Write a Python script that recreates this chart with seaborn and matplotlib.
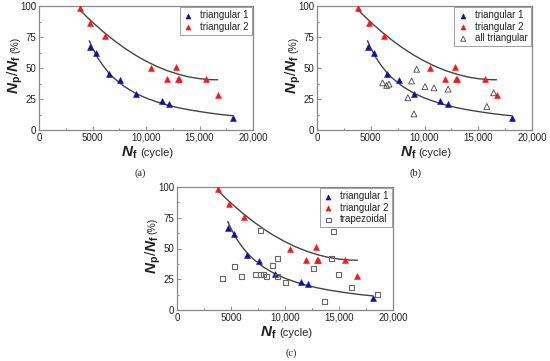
import numpy as np
import pandas as pd
import matplotlib
matplotlib.use("Agg")
import matplotlib.pyplot as plt
from matplotlib.ticker import MultipleLocator, FuncFormatter
import seaborn as sns

# data
tri1_x = [4750, 5300, 6500, 7600, 9050, 11450, 12150, 18150]
tri1_y = [67, 62, 45, 40, 29, 23, 21, 10]
tri2_x = [3800, 4800, 6200, 10500, 11950, 12850, 12950, 13050, 15600, 16700]
tri2_y = [98, 86, 76, 50, 41, 51, 41, 41, 41, 28]
all_x = [6100, 6480, 6700, 8450, 8800, 9020, 9270, 10050, 10880, 12200, 15800, 16430]
all_y = [38, 36, 37, 26, 39.5, 13, 49, 35, 34, 33, 19, 30]
trap_x = [4230, 5300, 5950, 7300, 7710, 7750, 7990, 8330, 8820, 9320, 9260, 10030,
          12680, 14320, 14500, 14930, 13640, 16200, 18610]
trap_y = [26, 35.5, 27.4, 28.5, 64.5, 28.5, 28.5, 27.4, 36.4, 41.6, 27.4, 22.2,
          33.4, 41.6, 63.5, 28.5, 7.3, 18.2, 12.2]

# fitted curves
fit1_x = [4700, 5000, 5500, 6000, 6500, 7000, 8000, 9000, 10000, 11000, 12000,
          13000, 14000, 15000, 16000, 17000, 18100]
fit1_y = [72, 66.2, 58.1, 51.7, 46.3, 41.9, 34.9, 29.7, 25.8, 22.7, 20.1,
          18.0, 16.3, 14.9, 13.6, 12.5, 11.5]
fit2_x = [3800, 4500, 5000, 6000, 7000, 8000, 9000, 10000, 11000, 12000, 13000,
          14000, 15000, 16000, 16700]
fit2_y = [97, 91.0, 86.9, 79.3, 72.3, 66.0, 60.4, 55.5, 51.3, 47.8, 45.0,
          42.8, 41.4, 40.6, 40.5]

sns.set_style("ticks")
plt.rcParams["font.family"] = ["Liberation Sans", "DejaVu Sans"]
plt.rcParams["mathtext.fontset"] = "custom"
plt.rcParams["mathtext.bf"] = "Liberation Sans:bold"
plt.rcParams["mathtext.bfit"] = "Liberation Sans:italic:bold"
plt.rcParams["mathtext.rm"] = "Liberation Sans"

BLUE = "#1010a8"
RED = "#ff1414"
GREY = "#666666"
TXT = "#222222"

fig = plt.figure(figsize=(5.5, 3.61), dpi=100)
W, H = 550, 361


def make_ax(left, right, top, bottom):
    return fig.add_axes([left / W, 1 - bottom / H, (right - left) / W, (bottom - top) / H])


def draw_panel(ax, extra=None):
    d1 = pd.DataFrame({"x": tri1_x, "y": tri1_y})
    d2 = pd.DataFrame({"x": tri2_x, "y": tri2_y})
    f1 = pd.DataFrame({"x": fit1_x, "y": fit1_y})
    f2 = pd.DataFrame({"x": fit2_x, "y": fit2_y})
    sns.lineplot(data=f1, x="x", y="y", ax=ax, color="#444444", lw=1, sort=False, legend=False)
    sns.lineplot(data=f2, x="x", y="y", ax=ax, color="#444444", lw=1, sort=False, legend=False)
    sns.scatterplot(data=d1, x="x", y="y", ax=ax, marker="^", s=18, color=BLUE,
                    edgecolor=BLUE, linewidth=0.4, label="triangular 1", zorder=3)
    sns.scatterplot(data=d2, x="x", y="y", ax=ax, marker="^", s=18, color=RED,
                    edgecolor=RED, linewidth=0.4, label="triangular 2", zorder=3)
    if extra == "all":
        d3 = pd.DataFrame({"x": all_x, "y": all_y})
        sns.scatterplot(data=d3, x="x", y="y", ax=ax, marker="^", s=18, facecolor="none",
                        edgecolor="#444444", linewidth=0.6, label="all triangular", zorder=3)
    elif extra == "trap":
        d3 = pd.DataFrame({"x": trap_x, "y": trap_y})
        sns.scatterplot(data=d3, x="x", y="y", ax=ax, marker="s", s=13, facecolor="none",
                        edgecolor=GREY, linewidth=0.8, label="trapezoidal", zorder=3)

    ax.set_xlim(0, 20000)
    ax.set_ylim(0, 100)
    ax.xaxis.set_major_locator(MultipleLocator(5000))
    ax.xaxis.set_minor_locator(MultipleLocator(2500))
    ax.yaxis.set_major_locator(MultipleLocator(25))
    ax.yaxis.set_minor_locator(MultipleLocator(12.5))
    ax.xaxis.set_major_formatter(FuncFormatter(lambda v, p: f"{int(v)}" if v < 10000 else f"{int(v):,}"))
    ax.tick_params(which="both", direction="in", colors="#777777", labelcolor=TXT, labelsize=7, pad=2)
    ax.tick_params(which="major", length=3, width=0.6)
    ax.tick_params(which="minor", length=1.5, width=0.6)
    for s in ax.spines.values():
        s.set_color("#888888")
        s.set_linewidth(0.9)
    ax.set_xlabel("")
    ax.set_ylabel("")

    leg = ax.legend(loc="upper right", fontsize=7, frameon=True, fancybox=False,
                    borderaxespad=0.15, borderpad=0.3, labelspacing=0.15,
                    handlelength=1.2, handletextpad=0.6, markerscale=0.85)
    leg.get_frame().set_edgecolor("#888888")
    leg.get_frame().set_linewidth(0.7)
    for t in leg.get_texts():
        t.set_color(TXT)

    # y label: N_p/N_f (%)
    t1 = ax.text(-0.112, 0.45, r"$\mathbfit{N}_{\mathbf{p}}/\mathbfit{N}_{\mathbf{f}}$",
                 transform=ax.transAxes, rotation=90, ha="center", va="center",
                 fontsize=11, color=TXT)
    ax.annotate("(%)", xy=(0.5, 1), xycoords=t1, xytext=(0, 1), textcoords="offset points",
                rotation=90, ha="center", va="bottom", fontsize=7.5, color=TXT)
    # x label: N_f (cycle)
    t2 = ax.text(0.462, -0.185, r"$\mathbfit{N}_{\mathbf{f}}$", transform=ax.transAxes,
                 ha="right", va="center", fontsize=11, color=TXT)
    ax.annotate("(cycle)", xy=(1, 0.5), xycoords=t2, xytext=(1.5, 0), textcoords="offset points",
                ha="left", va="center", fontsize=8, color=TXT)


ax_a = make_ax(39, 253, 6, 130)
draw_panel(ax_a)
ax_b = make_ax(317, 532, 6, 130)
draw_panel(ax_b, "all")
ax_c = make_ax(177, 393, 187, 310)
draw_panel(ax_c, "trap")

for lab, x, y in [("(a)", 140, 173), ("(b)", 415, 173), ("(c)", 291, 353)]:
    fig.text(x / W, 1 - y / H, lab, ha="center", va="center", fontsize=7.5,
             family=["Liberation Serif", "DejaVu Serif"], color=TXT)

fig.savefig("out.png", dpi=100)
